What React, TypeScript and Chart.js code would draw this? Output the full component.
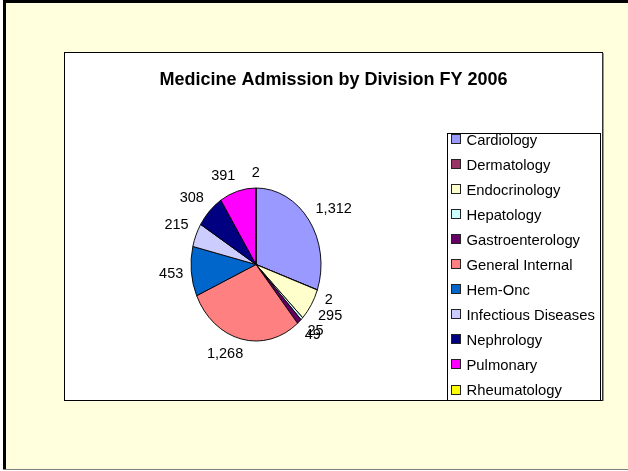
import React, { useEffect, useRef } from "react";
import { Chart, registerables } from "chart.js";

Chart.register(...registerables);

const categories = [
  "Cardiology",
  "Dermatology",
  "Endocrinology",
  "Hepatology",
  "Gastroenterology",
  "General Internal",
  "Hem-Onc",
  "Infectious Diseases",
  "Nephrology",
  "Pulmonary",
  "Rheumatology",
];
const admissions = [1312, 2, 295, 25, 49, 1268, 453, 215, 308, 391, 2];
const sliceColors = [
  "#9999FF",
  "#993366",
  "#FFFFCC",
  "#CCFFFF",
  "#660066",
  "#FF8080",
  "#0066CC",
  "#CCCCFF",
  "#000080",
  "#FF00FF",
  "#FFFF00",
];
const chartTitle = "Medicine Admission by Division FY 2006";

const W = 628;
const H = 471;
const CX = 256;
const CY = 264.5;
const RY = 76.5;
const SX = 65 / 76.5; // horizontal squash of the ellipse
const FONT = '"Liberation Sans", Arial, sans-serif';

const framePlugin = {
  id: "frame",
  beforeDraw(chart: any) {
    const ctx = chart.ctx;
    ctx.save();
    ctx.fillStyle = "#FFFFFF";
    ctx.fillRect(0, 0, W, H);
    ctx.fillStyle = "#FFFFDD";
    ctx.fillRect(3, 0, W - 3, H - 1);
    // outer borders
    ctx.fillStyle = "#000000";
    ctx.fillRect(3, 0, W - 3, 3);
    ctx.fillRect(3, 0, 3, H - 1);
    ctx.fillStyle = "#808080";
    ctx.fillRect(3, H - 2, W - 3, 1);
    // inner white plot box
    ctx.fillStyle = "#FFFFFF";
    ctx.fillRect(64, 52, 539, 349);
    ctx.strokeStyle = "#000000";
    ctx.lineWidth = 1;
    ctx.strokeRect(64.5, 52.5, 538, 348);
    ctx.fillStyle = "#333333";
    ctx.fillRect(602, 53, 1.5, 348);
    // title
    ctx.fillStyle = "#000000";
    ctx.font = `bold 18px ${FONT}`;
    ctx.textAlign = "center";
    ctx.textBaseline = "alphabetic";
    ctx.fillText(chartTitle, 333.5, 85);
    // legend
    ctx.strokeStyle = "#000000";
    ctx.strokeRect(447.5, 133.5, 153, 267);
    ctx.font = `14.8px ${FONT}`;
    ctx.textAlign = "left";
    categories.forEach((name, i) => {
      const yc = 139 + i * 25.05;
      ctx.fillStyle = sliceColors[i];
      ctx.fillRect(452, Math.round(yc) - 4, 8, 8);
      ctx.strokeStyle = "#222222";
      ctx.strokeRect(451.5, Math.round(yc) - 4.5, 9, 9);
      ctx.fillStyle = "#000000";
      ctx.fillText(name, 466.5, yc + 5.5);
    });
    ctx.restore();
  },
};

const ellipsePlugin = {
  id: "ellipse",
  beforeDatasetsDraw(chart: any) {
    const meta = chart.getDatasetMeta(0);
    const el = meta.data[0];
    const ctx = chart.ctx;
    ctx.save();
    ctx.translate(el.x, el.y);
    ctx.scale(SX, 1);
    ctx.translate(-el.x, -el.y);
  },
  afterDatasetsDraw(chart: any) {
    const ctx = chart.ctx;
    ctx.restore();
    const meta = chart.getDatasetMeta(0);
    ctx.save();
    ctx.font = `14.5px ${FONT}`;
    ctx.fillStyle = "#000000";
    ctx.textAlign = "center";
    ctx.textBaseline = "middle";
    const d = 8;
    const h = 14;
    meta.data.forEach((el: any, i: number) => {
      const a = (el.startAngle + el.endAngle) / 2;
      const c = Math.cos(a);
      const s = Math.sin(a);
      const px = el.x + el.outerRadius * SX * c;
      const py = el.y + el.outerRadius * s;
      const ax = px + d * c;
      const ay = py + d * s;
      const txt = admissions[i].toLocaleString("en-US");
      const w = ctx.measureText(txt).width;
      const kx = Math.max(-1, Math.min(1, c * 3.5));
      const ky = Math.max(-1, Math.min(1, s * 3.5));
      ctx.fillText(txt, ax + (w / 2) * kx, ay + (h / 2) * ky);
    });
    ctx.restore();
  },
};

export default function App() {
  const ref = useRef<HTMLCanvasElement | null>(null);
  useEffect(() => {
    if (!ref.current) return;
    const size = 2 * RY + 1;
    const left = CX - size / 2;
    const top = CY - size / 2;
    const chart = new Chart(ref.current, {
      type: "pie",
      data: {
        labels: categories,
        datasets: [
          {
            data: admissions,
            backgroundColor: sliceColors,
            borderColor: "#000000",
            borderWidth: 1,
          },
        ],
      },
      options: {
        responsive: false,
        animation: false,
        devicePixelRatio: 1,
        layout: {
          padding: {
            left,
            top,
            right: W - left - size,
            bottom: H - top - size,
          },
        },
        plugins: {
          legend: { display: false },
          title: { display: false },
          tooltip: { enabled: false },
        },
      },
      plugins: [framePlugin, ellipsePlugin],
    });
    return () => chart.destroy();
  }, []);
  return (
    <div style={{ position: "fixed", left: 0, top: 0, width: W, height: H }}>
      <canvas ref={ref} width={W} height={H} style={{ display: "block" }} />
    </div>
  );
}
